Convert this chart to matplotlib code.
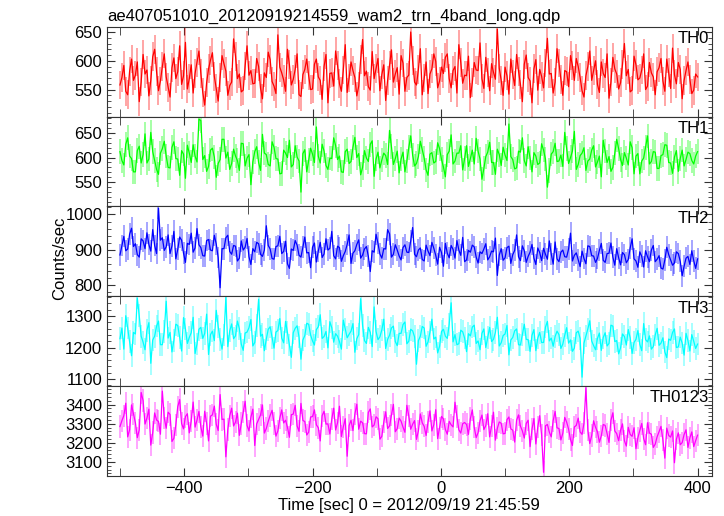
import numpy as np
import matplotlib
matplotlib.use("Agg")
import matplotlib.pyplot as plt
from matplotlib.ticker import MultipleLocator

plt.rcParams['font.family'] = ['Liberation Sans', 'DejaVu Sans']

# light curve bins: 3 s wide, starting at -500 s
t_start = -500
t_bin = 3

th0 = [558, 571, 592, 547, 541, 582, 603, 566, 575, 598,
       529, 563, 611, 577, 584, 539, 566, 607, 620, 581,
       548, 565, 590, 612, 572, 554, 537, 588, 605, 569,
       581, 626, 559, 574, 632, 551, 569, 593, 544, 578,
       597, 617, 578, 545, 523, 562, 586, 601, 614, 573,
       552, 530, 571, 609, 595, 582, 540, 557, 563, 638,
       608, 569, 577, 546, 549, 591, 626, 575, 583, 560,
       561, 604, 590, 552, 534, 579, 571, 615, 602, 564,
       556, 543, 645, 589, 579, 567, 547, 620, 593, 558,
       568, 585, 612, 541, 538, 576, 585, 603, 574, 550,
       551, 594, 603, 572, 566, 533, 590, 611, 527, 578,
       579, 556, 617, 592, 560, 547, 584, 628, 545, 570,
       598, 583, 571, 539, 556, 602, 637, 574, 582, 555,
       549, 616, 569, 587, 604, 548, 576, 593, 531, 566,
       592, 619, 563, 577, 588, 542, 609, 596, 547, 571,
       575, 650, 600, 563, 558, 585, 621, 541, 570, 598,
       543, 577, 586, 612, 599, 553, 565, 589, 578, 606,
       612, 569, 553, 583, 590, 544, 628, 597, 561, 575,
       574, 608, 536, 562, 597, 584, 583, 631, 569, 552,
       606, 579, 548, 595, 580, 568, 655, 587, 566, 540,
       589, 574, 542, 603, 576, 557, 611, 582, 559, 529,
       594, 610, 571, 565, 527, 586, 602, 549, 585, 573,
       553, 596, 639, 577, 578, 544, 563, 621, 596, 568,
       540, 583, 581, 555, 609, 592, 566, 604, 590, 571,
       548, 537, 574, 590, 617, 566, 583, 600, 559, 545,
       598, 578, 571, 612, 535, 563, 606, 586, 577, 551,
       562, 593, 630, 574, 585, 546, 549, 608, 593, 567,
       570, 584, 612, 550, 556, 597, 579, 572, 541, 581,
       588, 604, 565, 547, 603, 579, 552, 622, 576, 560,
       597, 585, 534, 566, 583, 598, 568, 543, 549, 577,
       572]

th1 = [612, 594, 585, 627, 640, 603, 598, 571, 571, 614,
       623, 589, 606, 648, 589, 597, 651, 612, 594, 576,
       566, 609, 618, 633, 603, 580, 579, 621, 632, 598,
       597, 564, 614, 607, 558, 625, 609, 590, 626, 603,
       591, 678, 675, 596, 604, 572, 582, 615, 619, 601,
       560, 588, 596, 637, 637, 599, 611, 576, 588, 617,
       603, 594, 574, 629, 628, 583, 599, 606, 545, 591,
       612, 622, 590, 574, 647, 609, 606, 586, 583, 632,
       621, 598, 597, 567, 568, 615, 609, 600, 635, 581,
       586, 624, 601, 593, 530, 608, 616, 571, 594, 619,
       607, 590, 662, 603, 589, 627, 613, 584, 576, 599,
       598, 640, 624, 596, 603, 571, 570, 612, 617, 588,
       592, 621, 641, 600, 608, 565, 580, 614, 599, 592,
       627, 634, 562, 597, 611, 579, 595, 609, 604, 586,
       655, 622, 586, 598, 613, 569, 597, 611, 571, 593,
       620, 644, 605, 583, 588, 602, 633, 616, 599, 575,
       564, 607, 610, 589, 592, 630, 618, 596, 581, 561,
       606, 613, 646, 587, 593, 609, 609, 624, 575, 598,
       624, 582, 598, 615, 587, 639, 613, 597, 556, 578,
       602, 611, 631, 590, 590, 566, 617, 606, 584, 621,
       605, 594, 668, 602, 596, 577, 579, 613, 611, 640,
       594, 583, 622, 599, 571, 610, 603, 586, 589, 628,
       615, 597, 540, 574, 607, 612, 629, 592, 593, 605,
       582, 651, 618, 588, 600, 613, 653, 576, 586, 604,
       609, 620, 574, 593, 597, 615, 624, 581, 591, 603,
       561, 635, 613, 590, 602, 572, 580, 609, 637, 618,
       596, 584, 610, 599, 585, 632, 620, 567, 603, 608,
       567, 593, 599, 621, 644, 587, 592, 612, 611, 578,
       578, 604, 606, 626, 625, 590, 589, 568, 601, 614,
       572, 598, 615, 583, 596, 611, 608, 594, 587, 603,
       612]

th2 = [885, 912, 938, 897, 902, 944, 961, 909, 917, 886,
       879, 931, 925, 903, 948, 915, 896, 957, 912, 889,
       1018, 927, 934, 898, 908, 942, 889, 911, 952, 874,
       901, 936, 927, 890, 864, 918, 915, 947, 893, 905,
       960, 914, 906, 883, 882, 926, 929, 899, 897, 941,
       916, 878, 792, 903, 903, 934, 941, 895, 887, 912,
       910, 868, 876, 925, 899, 907, 932, 880, 858, 903,
       894, 921, 917, 887, 881, 899, 968, 912, 902, 875,
       873, 909, 911, 938, 889, 895, 924, 860, 847, 902,
       898, 926, 913, 884, 879, 907, 936, 891, 892, 849,
       907, 919, 865, 896, 921, 878, 888, 931, 899, 904,
       952, 883, 874, 910, 906, 867, 883, 895, 915, 942,
       861, 890, 897, 915, 928, 876, 885, 902, 909, 881,
       838, 897, 893, 944, 918, 888, 876, 903, 902, 957,
       945, 879, 887, 914, 899, 882, 871, 906, 914, 893,
       892, 925, 963, 887, 880, 899, 905, 872, 868, 913,
       896, 883, 921, 904, 884, 859, 907, 892, 853, 918,
       890, 877, 912, 901, 876, 926, 899, 884, 935, 866,
       871, 898, 893, 913, 908, 879, 862, 894, 889, 902,
       917, 871, 880, 896, 894, 933, 827, 885, 903, 870,
       877, 906, 910, 861, 886, 898, 942, 880, 869, 911,
       897, 864, 881, 893, 915, 876, 858, 905, 892, 869,
       904, 887, 873, 925, 888, 859, 922, 874, 866, 893,
       899, 880, 879, 902, 947, 868, 884, 891, 871, 852,
       896, 875, 860, 911, 909, 883, 882, 864, 875, 898,
       918, 870, 864, 889, 890, 919, 879, 856, 903, 877,
       857, 892, 886, 863, 872, 905, 931, 874, 868, 850,
       894, 881, 851, 897, 880, 866, 899, 912, 866, 873,
       883, 848, 845, 871, 907, 886, 871, 856, 862, 894,
       889, 867, 826, 853, 876, 881, 858, 897, 869, 847,
       874]

th3 = [1228, 1262, 1195, 1301, 1262, 1219, 1174, 1248, 1243, 1357,
       1301, 1236, 1217, 1193, 1255, 1279, 1150, 1224, 1236, 1268,
       1284, 1209, 1209, 1251, 1347, 1230, 1248, 1186, 1223, 1274,
       1270, 1232, 1189, 1295, 1259, 1213, 1232, 1247, 1296, 1181,
       1211, 1258, 1264, 1229, 1245, 1306, 1178, 1241, 1252, 1222,
       1318, 1267, 1226, 1195, 1240, 1359, 1203, 1253, 1275, 1228,
       1237, 1284, 1260, 1211, 1191, 1246, 1249, 1263, 1289, 1205,
       1216, 1271, 1353, 1236, 1242, 1190, 1227, 1258, 1266, 1231,
       1198, 1249, 1254, 1292, 1230, 1215, 1283, 1247, 1208, 1169,
       1247, 1261, 1269, 1233, 1163, 1224, 1238, 1277, 1274, 1240,
       1221, 1208, 1257, 1266, 1304, 1229, 1235, 1251, 1199, 1282,
       1263, 1217, 1244, 1236, 1219, 1195, 1287, 1259, 1231, 1242,
       1252, 1276, 1185, 1228, 1241, 1355, 1270, 1222, 1213, 1264,
       1248, 1203, 1329, 1251, 1225, 1234, 1256, 1290, 1197, 1226,
       1239, 1262, 1268, 1219, 1206, 1245, 1245, 1273, 1281, 1212,
       1220, 1258, 1253, 1234, 1147, 1222, 1236, 1267, 1262, 1204,
       1218, 1249, 1290, 1227, 1233, 1183, 1204, 1251, 1258, 1236,
       1229, 1274, 1342, 1218, 1241, 1209, 1212, 1255, 1250, 1230,
       1187, 1244, 1237, 1265, 1271, 1213, 1221, 1193, 1245, 1259,
       1200, 1232, 1264, 1219, 1226, 1248, 1296, 1205, 1215, 1238,
       1243, 1270, 1177, 1224, 1232, 1253, 1259, 1209, 1208, 1241,
       1274, 1226, 1225, 1188, 1239, 1257, 1190, 1230, 1248, 1216,
       1216, 1265, 1283, 1221, 1230, 1204, 1235, 1252, 1241, 1197,
       1211, 1239, 1263, 1214, 1224, 1188, 1198, 1247, 1252, 1229,
       1106, 1214, 1237, 1259, 1285, 1221, 1206, 1193, 1229, 1246,
       1191, 1232, 1247, 1205, 1213, 1271, 1268, 1219, 1222, 1180,
       1199, 1243, 1235, 1208, 1257, 1231, 1181, 1216, 1226, 1254,
       1210, 1190, 1276, 1225, 1218, 1237, 1195, 1203, 1240, 1261,
       1207, 1214, 1231, 1186, 1168, 1227, 1223, 1248, 1259, 1200,
       1202, 1233, 1214, 1176, 1245, 1222, 1189, 1241, 1220, 1197,
       1211]

th0123 = [3285, 3316, 3342, 3407, 3231, 3268, 3398, 3352, 3305, 3227,
          3267, 3463, 3421, 3298, 3329, 3376, 3188, 3254, 3356, 3319,
          3312, 3245, 3470, 3331, 3276, 3360, 3348, 3207, 3224, 3294,
          3389, 3426, 3301, 3273, 3337, 3352, 3252, 3315, 3413, 3282,
          3319, 3364, 3283, 3235, 3365, 3301, 3210, 3339, 3346, 3392,
          3297, 3264, 3452, 3322, 3324, 3127, 3270, 3341, 3381, 3288,
          3308, 3355, 3239, 3301, 3359, 3417, 3291, 3262, 3334, 3376,
          3186, 3299, 3322, 3345, 3398, 3251, 3275, 3312, 3343, 3370,
          3301, 3235, 3262, 3328, 3372, 3304, 3318, 3281, 3229, 3347,
          3350, 3396, 3288, 3260, 3406, 3317, 3311, 3241, 3256, 3335,
          3337, 3372, 3294, 3279, 3210, 3342, 3365, 3298, 3299, 3246,
          3323, 3381, 3267, 3305, 3391, 3233, 3284, 3326, 3130, 3290,
          3318, 3264, 3350, 3402, 3271, 3313, 3305, 3248, 3247, 3359,
          3377, 3283, 3293, 3336, 3326, 3219, 3234, 3307, 3362, 3275,
          3288, 3344, 3401, 3258, 3274, 3329, 3313, 3282, 3255, 3396,
          3340, 3271, 3297, 3316, 3218, 3263, 3351, 3304, 3286, 3238,
          3309, 3367, 3262, 3295, 3373, 3222, 3279, 3338, 3325, 3270,
          3245, 3312, 3294, 3283, 3412, 3337, 3268, 3251, 3300, 3306,
          3296, 3244, 3327, 3372, 3281, 3227, 3253, 3315, 3345, 3269,
          3290, 3352, 3231, 3288, 3360, 3214, 3276, 3309, 3302, 3247,
          3249, 3321, 3335, 3273, 3266, 3204, 3318, 3346, 3287, 3262,
          3225, 3301, 3318, 3180, 3271, 3327, 3194, 3283, 3342, 3240,
          3046, 3289, 3296, 3256, 3231, 3316, 3364, 3278, 3275, 3215,
          3250, 3333, 3308, 3272, 3217, 3186, 3283, 3291, 3329, 3257,
          3244, 3302, 3488, 3267, 3196, 3238, 3315, 3281, 3258, 3203,
          3237, 3296, 3291, 3248, 3202, 3318, 3357, 3262, 3248, 3211,
          3266, 3299, 3211, 3183, 3281, 3244, 3234, 3279, 3169, 3227,
          3263, 3301, 3222, 3190, 3305, 3251, 3245, 3176, 3193, 3232,
          3258, 3286, 3214, 3120, 3277, 3238, 3230, 3262, 3096, 3219,
          3252, 3190, 3201, 3243, 3268, 3176, 3226, 3257, 3180, 3211,
          3240]

series = [th0, th1, th2, th3, th0123]
errors = [25, 25, 31, 36, 58]
names = ['TH0', 'TH1', 'TH2', 'TH3', 'TH0123']
colors = ['#ff0000', '#00ff00', '#0000ff', '#00ffff', '#ff00ff']
ylims = [(503, 659), (501, 683), (768, 1023), (1078, 1363), (3028, 3497)]
ysteps = [50, 50, 100, 100, 100]

fig, axes = plt.subplots(5, 1, figsize=(7.24, 5.16), dpi=100, sharex=True)
fig.subplots_adjust(left=0.148, right=0.983, top=0.948, bottom=0.078, hspace=0)

for ax, y, err, name, col, lim, step in zip(axes, series, errors, names, colors, ylims, ysteps):
    time = t_start + t_bin * np.arange(len(y))
    ax.errorbar(time, y, yerr=err, fmt='none', ecolor=col, alpha=0.45, elinewidth=1.1)
    ax.plot(time, y, color=col, lw=0.9)
    ax.set_ylim(*lim)
    ax.yaxis.set_major_locator(MultipleLocator(step))
    ax.yaxis.set_minor_locator(MultipleLocator(step / 5))
    ax.xaxis.set_major_locator(MultipleLocator(200))
    ax.xaxis.set_minor_locator(MultipleLocator(100))
    ax.tick_params(which='both', direction='in', top=True, right=True, labelsize=12, color='#333333')
    ax.tick_params(which='major', length=6)
    ax.tick_params(which='minor', axis='y', length=3)
    ax.tick_params(which='minor', axis='x', length=6)
    ax.text(0.995, 0.95, name, transform=ax.transAxes, ha='right', va='top', fontsize=12)
    for s in ax.spines.values():
        s.set_color('#333333')

axes[-1].set_xlim(-520, 422)
axes[-1].set_xlabel('Time [sec] 0 = 2012/09/19 21:45:59', fontsize=12, labelpad=2)
fig.text(0.083, 0.5, 'Counts/sec', rotation=90, ha='center', va='center', fontsize=12)
axes[0].set_title('ae407051010_20120919214559_wam2_trn_4band_long.qdp', loc='left', fontsize=12, pad=4)

fig.savefig('out.png', dpi=100)
